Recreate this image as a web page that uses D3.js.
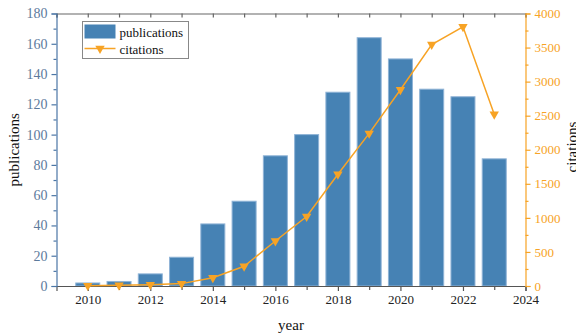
<!DOCTYPE html>
<html>
<head>
<meta charset="utf-8">
<script src="https://cdn.jsdelivr.net/npm/d3@7"></script>
<style>
  html, body { margin: 0; padding: 0; background: #fff; }
  svg { display: block; }
  svg text { font-family: "Liberation Serif", "Times New Roman", serif; }
</style>
</head>
<body>
<svg id="chart" width="576" height="335"></svg>
<script>
// Yearly publication counts and citation totals
const years = [2010, 2011, 2012, 2013, 2014, 2015, 2016, 2017, 2018, 2019, 2020, 2021, 2022, 2023];
const publications = [2, 3, 8, 19, 41, 56, 86, 100, 128, 164, 150, 130, 125, 84];
const citations = [5, 10, 20, 35, 120, 290, 660, 1020, 1640, 2240, 2880, 3545, 3805, 2520];

const xTicks = [2010, 2012, 2014, 2016, 2018, 2020, 2022, 2024];
const leftTicks = [0, 20, 40, 60, 80, 100, 120, 140, 160, 180];
const rightTicks = [0, 500, 1000, 1500, 2000, 2500, 3000, 3500, 4000];

const svg = d3.select("#chart");
const L = 56.5, R = 525.5, T = 13.5, B = 286;

const x = d3.scaleLinear().domain([2009, 2024]).range([L, R]);
const yL = d3.scaleLinear().domain([0, 180]).range([B, T]);
const yR = d3.scaleLinear().domain([0, 4000]).range([B, T]);

const blue = "#4682b4";
const orange = "#f7a325";
const leftCol = "#4b76a6";
const leftText = "#5c7a9c";
const serif = "'Liberation Serif', 'Times New Roman', serif";

function styleAxis(g, lineCol, textCol, size) {
  g.attr("font-family", serif).attr("font-size", size);
  g.selectAll("path, line").attr("stroke", lineCol).attr("stroke-width", 1.2);
  g.selectAll("text").attr("fill", textCol);
}

// bars
const bw = x(2009.4) - x(2009);
svg.append("g").selectAll("rect")
  .data(years)
  .join("rect")
  .attr("x", (d) => x(d) - bw + 0.5)
  .attr("y", (d, i) => yL(publications[i]))
  .attr("width", bw * 2 - 1)
  .attr("height", (d, i) => B - yL(publications[i]))
  .attr("fill", blue)
  .attr("stroke", "#8fb3d6")
  .attr("stroke-width", 1);

// top frame with inward year ticks
const topAxis = svg.append("g").attr("transform", `translate(0,${T})`)
  .call(d3.axisTop(x).tickValues(d3.range(2009, 2025)).tickSize(-4).tickFormat(""));
styleAxis(topAxis, "#666", "#222", 13);

// bottom axis
const xMinor = d3.range(2010, 2025).filter((d) => d % 2 === 1);
const bot = svg.append("g").attr("transform", `translate(0,${B})`);
bot.call(d3.axisBottom(x).tickValues(xTicks).tickSize(5).tickPadding(4).tickFormat(d3.format("d")));
bot.append("g").call(d3.axisBottom(x).tickValues(xMinor).tickSize(4).tickFormat(""))
  .select(".domain").remove();
styleAxis(bot, "#555", "#222", 13);

// left axis
const lMinor = d3.range(10, 180, 20);
const left = svg.append("g").attr("transform", `translate(${L},0)`);
left.call(d3.axisLeft(yL).tickValues(leftTicks).tickSize(5).tickPadding(4).tickFormat(d3.format("d")));
left.append("g").call(d3.axisLeft(yL).tickValues(lMinor).tickSize(3).tickFormat(""))
  .select(".domain").remove();
styleAxis(left, leftCol, leftText, 14);

// right axis
const rMinor = d3.range(250, 4000, 500);
const right = svg.append("g").attr("transform", `translate(${R},0)`);
right.call(d3.axisRight(yR).tickValues(rightTicks).tickSize(5).tickPadding(4).tickFormat(d3.format("d")));
right.append("g").call(d3.axisRight(yR).tickValues(rMinor).tickSize(3).tickFormat(""))
  .select(".domain").remove();
styleAxis(right, orange, orange, 13);

// citations line
const line = d3.line().x((d) => x(d)).y((d, i) => yR(citations[i]));
svg.append("path").datum(years)
  .attr("d", line)
  .attr("fill", "none")
  .attr("stroke", orange)
  .attr("stroke-width", 1.5);

const tri = d3.symbol().type(d3.symbolTriangle).size(38);
svg.append("g").selectAll("path")
  .data(years)
  .join("path")
  .attr("d", tri)
  .attr("transform", (d, i) => `translate(${x(d)},${yR(citations[i])}) rotate(180)`)
  .attr("fill", orange);

// axis titles
svg.append("text")
  .attr("transform", `translate(19,${(T + B) / 2}) rotate(-90)`)
  .attr("text-anchor", "middle")
  .attr("fill", "#111")
  .attr("font-size", 15)
  .text("publications");

svg.append("text")
  .attr("transform", "translate(577,147) rotate(-90)")
  .attr("text-anchor", "middle")
  .attr("fill", "#111")
  .attr("font-size", 15)
  .text("citations");

svg.append("text")
  .attr("x", (L + R) / 2)
  .attr("y", 330)
  .attr("text-anchor", "middle")
  .attr("fill", "#111")
  .attr("font-size", 15)
  .text("year");

// legend
const lg = svg.append("g").attr("transform", "translate(82.5,21.5)");
lg.append("rect").attr("width", 106).attr("height", 37)
  .attr("fill", "#fff").attr("stroke", "#888").attr("stroke-width", 1);
lg.append("rect").attr("x", 2).attr("y", 3).attr("width", 31).attr("height", 14).attr("fill", blue);
lg.append("text").attr("x", 37).attr("y", 15).attr("fill", "#111").attr("font-size", 13).text("publications");
lg.append("line").attr("x1", 2).attr("x2", 33).attr("y1", 27).attr("y2", 27)
  .attr("stroke", orange).attr("stroke-width", 1.5);
lg.append("path").attr("d", tri).attr("transform", "translate(17.5,27) rotate(180)").attr("fill", orange);
lg.append("text").attr("x", 37).attr("y", 32).attr("fill", "#111").attr("font-size", 13).text("citations");
</script>
</body>
</html>
